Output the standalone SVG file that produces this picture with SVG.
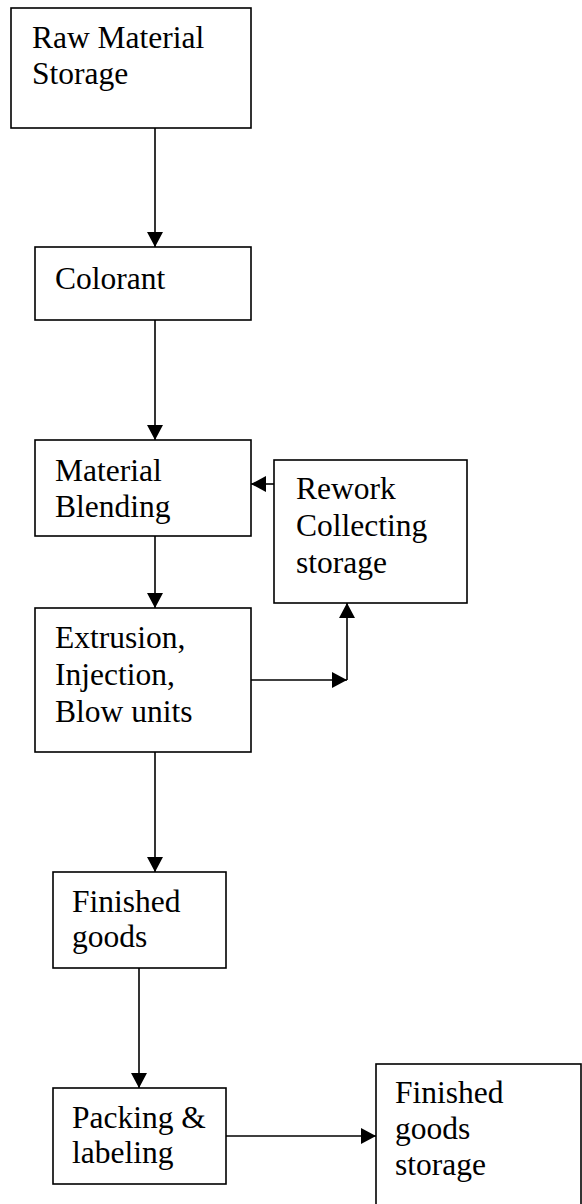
<svg xmlns="http://www.w3.org/2000/svg" width="582" height="1204" viewBox="0 0 582 1204">
  <style>
    .box { fill: #ffffff; stroke: #000000; stroke-width: 1.6; }
    .lbl { font-family: "Liberation Serif", "Times New Roman", serif; font-size: 31.5px; fill: #000000; }
    .edge { fill: none; stroke: #000000; stroke-width: 1.6; marker-end: url(#arrow); }
  </style>
  <defs>
    <marker id="arrow" markerUnits="userSpaceOnUse" markerWidth="16" markerHeight="16" refX="15" refY="8" orient="auto">
      <path d="M0,0 L15,8 L0,16 z" fill="#000000"/>
    </marker>
  </defs>

  <rect x="0" y="0" width="582" height="1204" fill="#ffffff"/>

  <!-- connectors -->
  <g id="connectors">
    <line class="edge" x1="155" y1="128" x2="155" y2="247"/>
    <line class="edge" x1="155" y1="320" x2="155" y2="440"/>
    <line class="edge" x1="274" y1="484" x2="251" y2="484"/>
    <line class="edge" x1="155" y1="536" x2="155" y2="608"/>
    <line class="edge" x1="251" y1="680" x2="347" y2="680"/>
    <line class="edge" x1="347" y1="680" x2="347" y2="603"/>
    <line class="edge" x1="155" y1="752" x2="155" y2="872"/>
    <line class="edge" x1="139" y1="968" x2="139" y2="1088"/>
    <line class="edge" x1="226" y1="1136" x2="376" y2="1136"/>
  </g>

  <g id="raw-material-storage">
    <rect class="box" x="11" y="8" width="240" height="120"/>
    <text class="lbl" x="32" y="48">Raw Material</text>
    <text class="lbl" x="32" y="84">Storage</text>
  </g>

  <g id="colorant">
    <rect class="box" x="35" y="247" width="216" height="73"/>
    <text class="lbl" x="55" y="289">Colorant</text>
  </g>

  <g id="material-blending">
    <rect class="box" x="35" y="440" width="216" height="96"/>
    <text class="lbl" x="55" y="481">Material</text>
    <text class="lbl" x="55" y="517">Blending</text>
  </g>

  <g id="rework-storage">
    <rect class="box" x="274" y="460" width="193" height="143"/>
    <text class="lbl" x="296" y="499">Rework</text>
    <text class="lbl" x="296" y="536">Collecting</text>
    <text class="lbl" x="296" y="573">storage</text>
  </g>

  <g id="forming-units">
    <rect class="box" x="35" y="608" width="216" height="144"/>
    <text class="lbl" x="55" y="648">Extrusion,</text>
    <text class="lbl" x="55" y="685">Injection,</text>
    <text class="lbl" x="55" y="722">Blow units</text>
  </g>

  <g id="finished-goods">
    <rect class="box" x="53" y="872" width="173" height="96"/>
    <text class="lbl" x="72" y="912">Finished</text>
    <text class="lbl" x="72" y="947">goods</text>
  </g>

  <g id="packing-labeling">
    <rect class="box" x="53" y="1088" width="173" height="96"/>
    <text class="lbl" x="72" y="1128">Packing &amp;</text>
    <text class="lbl" x="72" y="1163">labeling</text>
  </g>

  <g id="finished-goods-storage">
    <rect class="box" x="376" y="1064" width="205" height="160"/>
    <text class="lbl" x="395" y="1103">Finished</text>
    <text class="lbl" x="395" y="1139">goods</text>
    <text class="lbl" x="395" y="1175">storage</text>
  </g>
</svg>
